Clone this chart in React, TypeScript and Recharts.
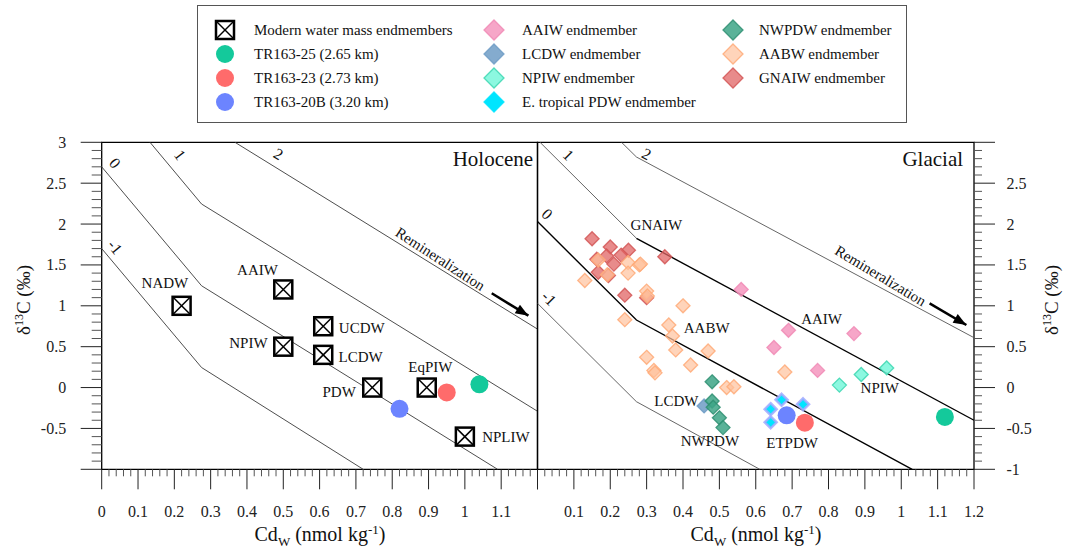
import { ScatterChart, Scatter, XAxis, YAxis, ReferenceArea, ReferenceLine } from "recharts";

const FONT = '"Liberation Serif", "Times New Roman", Times, serif';
const W = 1081;
const H = 550;

// axis ticks (majors carry labels, the rest are minor ticks)
const xMajor = [0, 0.1, 0.2, 0.3, 0.4, 0.5, 0.6, 0.7, 0.8, 0.9, 1, 1.1, 1.2];
const yMajor = [-1, -0.5, 0, 0.5, 1, 1.5, 2, 2.5, 3];
const steps = (a: number, b: number, s: number) => {
  const out: number[] = [];
  for (let v = a; v <= b + 1e-9; v += s) out.push(+v.toFixed(3));
  return out;
};
const xTicks = steps(0, 1.2, 0.02);
const yTicks = steps(-1, 3, 0.1);
const isMajor = (v: number, list: number[]) => list.some((m) => Math.abs(m - v) < 1e-6);

// modern water mass endmembers (Holocene panel)
const modernNames = ["NADW", "AAIW", "UCDW", "NPIW", "LCDW", "PDW", "EqPIW", "NPLIW"];
const modernCd = [0.22, 0.5, 0.61, 0.5, 0.61, 0.745, 0.895, 1.0];
const modernD13C = [1.0, 1.2, 0.75, 0.5, 0.4, 0.0, 0.0, -0.6];

// cores: TR163-25, TR163-23, TR163-20B
const coreNames = ["TR163-25 (2.65 km)", "TR163-23 (2.73 km)", "TR163-20B (3.20 km)"];
const coreColors = ["#14C99B", "#FF6B6B", "#6C84FF"];
const holoCoreCd = [1.04, 0.95, 0.82];
const holoCoreD13C = [0.04, -0.06, -0.26];
const glacCoreCd = [1.12, 0.735, 0.685];
const glacCoreD13C = [-0.36, -0.43, -0.34];

// glacial endmembers
const gnaiwCd = [0.15, 0.2, 0.25, 0.23, 0.19, 0.163, 0.21, 0.167, 0.195, 0.35, 0.24, 0.3];
const gnaiwD13C = [1.82, 1.72, 1.68, 1.62, 1.61, 1.57, 1.51, 1.41, 1.37, 1.6, 1.13, 1.1];
const aabwCd = [0.13, 0.167, 0.249, 0.28, 0.283, 0.249, 0.192, 0.3, 0.302, 0.4, 0.24, 0.361, 0.371, 0.38, 0.469, 0.3, 0.421, 0.32, 0.323, 0.68, 0.52, 0.54];
const aabwD13C = [1.31, 1.56, 1.53, 1.5, 1.51, 1.4, 1.38, 1.18, 1.12, 1.0, 0.83, 0.765, 0.63, 0.46, 0.447, 0.37, 0.276, 0.21, 0.18, 0.19, 0.0, 0.01];
const aaiwCd = [0.56, 0.69, 0.87, 0.65, 0.77];
const aaiwD13C = [1.2, 0.7, 0.66, 0.49, 0.21];
const npiwCd = [0.96, 0.89, 0.83];
const npiwD13C = [0.24, 0.16, 0.03];
const etpdwCd = [0.671, 0.73, 0.641, 0.641];
const etpdwD13C = [-0.15, -0.205, -0.265, -0.425];
const lcdwCd = [0.458];
const lcdwD13C = [-0.225];
const nwpdwCd = [0.48, 0.48, 0.483, 0.5, 0.51];
const nwpdwD13C = [0.07, -0.165, -0.24, -0.37, -0.49];

// iso-lines of delta13C_as (vertices)
const holoLines = [
  { x: [0, 0.275, 0.72], y: [1.7, 0.245, -1] },
  { x: [0, 0.275, 1.09], y: [2.7, 1.245, -1] },
  { x: [0.133, 0.275, 1.2], y: [3, 2.245, -0.29] },
  { x: [0.367, 1.2], y: [3, 0.715] },
];
const glacGrayLines = [
  { x: [0, 0.272, 0.611], y: [1.03, -0.173, -1] },
  { x: [0.007, 0.272], y: [3, 1.826] },
  { x: [0.231, 0.272, 1.2], y: [3, 2.82, 0.61] },
];
const glacBlackLines = [
  { x: [0, 0.272, 1.03], y: [2.03, 0.826, -1] },
  { x: [0.272, 1.2], y: [1.826, -0.4] },
];

const pts = (xs: number[], ys: number[]) => xs.map((x, i) => ({ x, y: ys[i] }));

// annotations
const holoLabels = [
  { x: 0.174, y: 1.283, text: "NADW" },
  { x: 0.429, y: 1.438, text: "AAIW" },
  { x: 0.716, y: 0.725, text: "UCDW" },
  { x: 0.404, y: 0.541, text: "NPIW" },
  { x: 0.713, y: 0.377, text: "LCDW" },
  { x: 0.654, y: -0.058, text: "PDW" },
  { x: 0.905, y: 0.248, text: "EqPIW" },
  { x: 1.113, y: -0.609, text: "NPLIW" },
  { x: 0.037, y: 2.747, text: "0", rot: 50, size: 16 },
  { x: 0.216, y: 2.845, text: "1", rot: 53, size: 16 },
  { x: 0.487, y: 2.857, text: "2", rot: 30, size: 16 },
  { x: 0.037, y: 1.72, text: "-1", rot: 50, size: 16 },
  { x: 0.932, y: 1.572, text: "Remineralization", rot: 33 },
  { x: 1.188, y: 2.8, text: "Holocene", size: 21, anchor: "end" },
];
const glacLabels = [
  { x: 0.327, y: 1.988, text: "GNAIW" },
  { x: 0.465, y: 0.732, text: "AABW" },
  { x: 0.781, y: 0.839, text: "AAIW" },
  { x: 0.941, y: 0.0, text: "NPIW" },
  { x: 0.382, y: -0.165, text: "LCDW" },
  { x: 0.474, y: -0.654, text: "NWPDW" },
  { x: 0.7, y: -0.675, text: "ETPDW" },
  { x: 0.085, y: 2.845, text: "1", rot: 45, size: 16 },
  { x: 0.3, y: 2.857, text: "2", rot: 28, size: 16 },
  { x: 0.027, y: 2.123, text: "0", rot: 45, size: 16 },
  { x: 0.032, y: 1.092, text: "-1", rot: 45, size: 16 },
  { x: 0.943, y: 1.367, text: "Remineralization", rot: 31 },
  { x: 1.17, y: 2.8, text: "Glacial", size: 21, anchor: "end" },
];
const holoArrow = [{ x: 1.074, y: 1.153 }, { x: 1.175, y: 0.879 }];
const glacArrow = [{ x: 1.078, y: 1.03 }, { x: 1.179, y: 0.765 }];

const styles: Record<string, { fill: string; stroke: string; op: number; sw?: number }> = {
  AAIW: { fill: "#F596BE", stroke: "#F08AB5", op: 0.85 },
  LCDW: { fill: "#6F9CC6", stroke: "#6F9CC6", op: 0.85 },
  NPIW: { fill: "#78F7DA", stroke: "#3BD6B0", op: 0.85 },
  ETPDW: { fill: "#00E5FF", stroke: "#A3A9FF", op: 1, sw: 2.5 },
  NWPDW: { fill: "#3DA586", stroke: "#2F8F72", op: 0.85 },
  AABW: { fill: "#FFC29C", stroke: "#FFAA78", op: 0.7 },
  GNAIW: { fill: "#E06464", stroke: "#D25656", op: 0.75 },
};

const diamond = (key: string, r = 7, outline = true) => (p: any) => {
  const s = styles[key];
  const stroke = outline || key !== "ETPDW" ? s.stroke : s.fill;
  const sw = outline ? s.sw ?? 1.3 : 1.3;
  return (
    <polygon
      points={`${p.cx},${p.cy - r} ${p.cx + r},${p.cy} ${p.cx},${p.cy + r} ${p.cx - r},${p.cy}`}
      fill={s.fill}
      fillOpacity={s.op}
      stroke={stroke}
      strokeOpacity={0.85}
      strokeWidth={sw}
    />
  );
};

const crossBox = (cx: number, cy: number, h = 9) => (
  <g>
    <rect x={cx - h} y={cy - h} width={2 * h} height={2 * h} fill="#fff" stroke="#000" strokeWidth={2.5} />
    <line x1={cx - h} y1={cy - h} x2={cx + h} y2={cy + h} stroke="#000" strokeWidth={1.5} />
    <line x1={cx + h} y1={cy - h} x2={cx - h} y2={cy + h} stroke="#000" strokeWidth={1.5} />
  </g>
);

const circle = (color: string) => (p: any) => <circle cx={p.cx} cy={p.cy} r={9} fill={color} />;

const textShape = (p: any) => {
  const d = p.payload ?? p;
  return (
    <text
      x={p.cx}
      y={p.cy}
      textAnchor={d.anchor ?? "middle"}
      dominantBaseline="central"
      fontFamily={FONT}
      fontSize={d.size ?? 15}
      fill="#111"
      transform={d.rot ? `rotate(${d.rot} ${p.cx} ${p.cy})` : undefined}
    >
      {d.text}
    </text>
  );
};

const arrowHead = (rot: number) => (p: any) => (
  <polygon
    points={`${p.cx},${p.cy} ${p.cx - 13},${p.cy - 5} ${p.cx - 13},${p.cy + 5}`}
    fill="#000"
    transform={`rotate(${rot} ${p.cx} ${p.cy})`}
  />
);

const none = () => <g />;

// tick renderers: draw the tick line and (for majors) the label
const xTick = (side: "left" | "right") => (p: any) => {
  const v = p.payload.value;
  const major = isMajor(v, xMajor);
  const show = major && (side === "left" ? v < 1.15 : v > 0.05);
  return (
    <g>
      <line x1={p.x} y1={p.y} x2={p.x} y2={p.y + (major ? 20 : 7)} stroke={major ? "#222" : "#555"} strokeWidth={1} />
      {show && (
        <text x={p.x} y={p.y + 42.4} textAnchor="middle" dominantBaseline="central" fontFamily={FONT} fontSize={16} fill="#222">
          {String(v)}
        </text>
      )}
    </g>
  );
};
const yTick = (side: "left" | "right") => (p: any) => {
  const v = p.payload.value;
  const major = isMajor(v, yMajor);
  const dir = side === "left" ? -1 : 1;
  const len = major ? 21 : side === "left" ? 10 : 8;
  const show = major && (side === "left" ? v > -0.75 : v < 2.75);
  return (
    <g>
      <line x1={p.x} y1={p.y} x2={p.x + dir * len} y2={p.y} stroke={major ? "#222" : "#555"} strokeWidth={1} />
      {show && (
        <text
          x={p.x + dir * (side === "left" ? 35.5 : 32.5)}
          y={p.y}
          textAnchor={side === "left" ? "end" : "start"}
          dominantBaseline="central"
          fontFamily={FONT}
          fontSize={16}
          fill="#222"
        >
          {String(v)}
        </text>
      )}
    </g>
  );
};

const axes = (side: "left" | "right") => [
  <XAxis
    key="x"
    type="number"
    dataKey="x"
    domain={[0, 1.2]}
    ticks={xTicks}
    interval={0}
    height={1}
    tickSize={0}
    tickMargin={0}
    axisLine={false}
    tickLine={false}
    tick={xTick(side)}
  />,
  <YAxis
    key="y"
    orientation={side}
    type="number"
    dataKey="y"
    domain={[-1, 3]}
    ticks={yTicks}
    interval={0}
    width={1}
    tickSize={0}
    tickMargin={0}
    axisLine={false}
    tickLine={false}
    tick={yTick(side)}
  />,
  <ReferenceArea key="frame" x1={0} x2={1.2} y1={-1} y2={3} fill="none" fillOpacity={0} stroke="#000" strokeWidth={1.3} ifOverflow="visible" />,
];

const PLOT_TOP = 142.3;
const PLOT_BOTTOM = 469.3;

const HolocenePanel = () => (
  <ScatterChart width={W} height={H} margin={{ top: PLOT_TOP, bottom: H - PLOT_BOTTOM - 1, left: 101.7 - 1, right: W - 537.5 }}>
    {axes("left")}
    {holoLines.map((l, i) => (
      <Scatter key={"hl" + i} data={pts(l.x, l.y)} line={{ stroke: "#3a3a3a", strokeWidth: 0.9 }} shape={none} isAnimationActive={false} />
    ))}
    <ReferenceLine segment={holoArrow} stroke="#000" strokeWidth={2.5} />
    <Scatter data={holoArrow.slice(1)} shape={arrowHead(31.5)} isAnimationActive={false} />
    <Scatter data={pts(modernCd, modernD13C)} shape={(p: any) => crossBox(p.cx, p.cy)} isAnimationActive={false} />
    {coreNames.map((n, i) => (
      <Scatter key={n} data={[{ x: holoCoreCd[i], y: holoCoreD13C[i] }]} shape={circle(coreColors[i])} isAnimationActive={false} />
    ))}
    <Scatter data={holoLabels} shape={textShape} isAnimationActive={false} />
  </ScatterChart>
);

const GlacialPanel = () => (
  <ScatterChart width={W} height={H} margin={{ top: PLOT_TOP, bottom: H - PLOT_BOTTOM - 1, left: 537.5, right: W - 974 - 1 }}>
    {axes("right")}
    {glacGrayLines.map((l, i) => (
      <Scatter key={"gg" + i} data={pts(l.x, l.y)} line={{ stroke: "#555", strokeWidth: 0.9 }} shape={none} isAnimationActive={false} />
    ))}
    {glacBlackLines.map((l, i) => (
      <Scatter key={"gb" + i} data={pts(l.x, l.y)} line={{ stroke: "#000", strokeWidth: 1.4 }} shape={none} isAnimationActive={false} />
    ))}
    <ReferenceLine segment={glacArrow} stroke="#000" strokeWidth={2.5} />
    <Scatter data={glacArrow.slice(1)} shape={arrowHead(30.6)} isAnimationActive={false} />
    <Scatter data={pts(gnaiwCd, gnaiwD13C)} shape={diamond("GNAIW")} isAnimationActive={false} />
    <Scatter data={pts(aabwCd, aabwD13C)} shape={diamond("AABW")} isAnimationActive={false} />
    <Scatter data={pts(aaiwCd, aaiwD13C)} shape={diamond("AAIW")} isAnimationActive={false} />
    <Scatter data={pts(npiwCd, npiwD13C)} shape={diamond("NPIW")} isAnimationActive={false} />
    <Scatter data={pts(lcdwCd, lcdwD13C)} shape={diamond("LCDW")} isAnimationActive={false} />
    <Scatter data={pts(nwpdwCd, nwpdwD13C)} shape={diamond("NWPDW")} isAnimationActive={false} />
    <Scatter data={pts(etpdwCd, etpdwD13C)} shape={diamond("ETPDW", 6)} isAnimationActive={false} />
    {coreNames.map((n, i) => (
      <Scatter key={n} data={[{ x: glacCoreCd[i], y: glacCoreD13C[i] }]} shape={circle(coreColors[i])} isAnimationActive={false} />
    ))}
    <Scatter data={glacLabels} shape={textShape} isAnimationActive={false} />
  </ScatterChart>
);

const legendItems = [
  { col: 0, row: 0, kind: "box", label: "Modern water mass endmembers" },
  { col: 0, row: 1, kind: "c0", label: coreNames[0] },
  { col: 0, row: 2, kind: "c1", label: coreNames[1] },
  { col: 0, row: 3, kind: "c2", label: coreNames[2] },
  { col: 1, row: 0, kind: "AAIW", label: "AAIW endmember" },
  { col: 1, row: 1, kind: "LCDW", label: "LCDW endmember" },
  { col: 1, row: 2, kind: "NPIW", label: "NPIW endmember" },
  { col: 1, row: 3, kind: "ETPDW", label: "E. tropical PDW endmember" },
  { col: 2, row: 0, kind: "NWPDW", label: "NWPDW endmember" },
  { col: 2, row: 1, kind: "AABW", label: "AABW endmember" },
  { col: 2, row: 2, kind: "GNAIW", label: "GNAIW endmember" },
];
const legendMarkX = [225, 494, 733];
const legendTextX = [254, 522, 759];
const legendRowY = [30, 54, 78, 102];

const Overlay = () => (
  <svg width={W} height={H} style={{ position: "absolute", left: 0, top: 0, pointerEvents: "none" }}>
    <rect x={197.5} y={5.5} width={709} height={117} fill="#fff" stroke="#555" strokeWidth={1} />
    {legendItems.map((it) => {
      const mx = legendMarkX[it.col];
      const my = legendRowY[it.row];
      let mark;
      if (it.kind === "box") mark = crossBox(mx, my, 9);
      else if (it.kind.startsWith("c")) mark = <circle cx={mx} cy={my} r={9} fill={coreColors[+it.kind[1]]} />;
      else mark = diamond(it.kind, 10, false)({ cx: mx, cy: my });
      return (
        <g key={it.label}>
          {mark}
          <text x={legendTextX[it.col]} y={my} dominantBaseline="central" fontFamily={FONT} fontSize={15} fill="#111">
            {it.label}
          </text>
        </g>
      );
    })}
    {[320, 756].map((cx) => (
      <text key={cx} x={cx} y={541} textAnchor="middle" fontFamily={FONT} fontSize={20} fill="#111">
        Cd
        <tspan dy={5} fontSize={13}>W</tspan>
        <tspan dy={-5}> (nmol kg</tspan>
        <tspan dy={-7} fontSize={13}>-1</tspan>
        <tspan dy={7}>)</tspan>
      </text>
    ))}
    {[30, 1058].map((x) => (
      <text key={x} x={x} y={300} textAnchor="middle" fontFamily={FONT} fontSize={19} fill="#111" transform={`rotate(-90 ${x} 300)`}>
        δ
        <tspan dy={-7} fontSize={12}>13</tspan>
        <tspan dy={7}>C (‰)</tspan>
      </text>
    ))}
  </svg>
);

export default function App() {
  return (
    <div style={{ position: "absolute", left: 0, top: 0, width: W, height: H, background: "#fff", fontFamily: FONT }}>
      <div style={{ position: "absolute", left: 0, top: 0 }}>
        <HolocenePanel />
      </div>
      <div style={{ position: "absolute", left: 0, top: 0 }}>
        <GlacialPanel />
      </div>
      <Overlay />
    </div>
  );
}
